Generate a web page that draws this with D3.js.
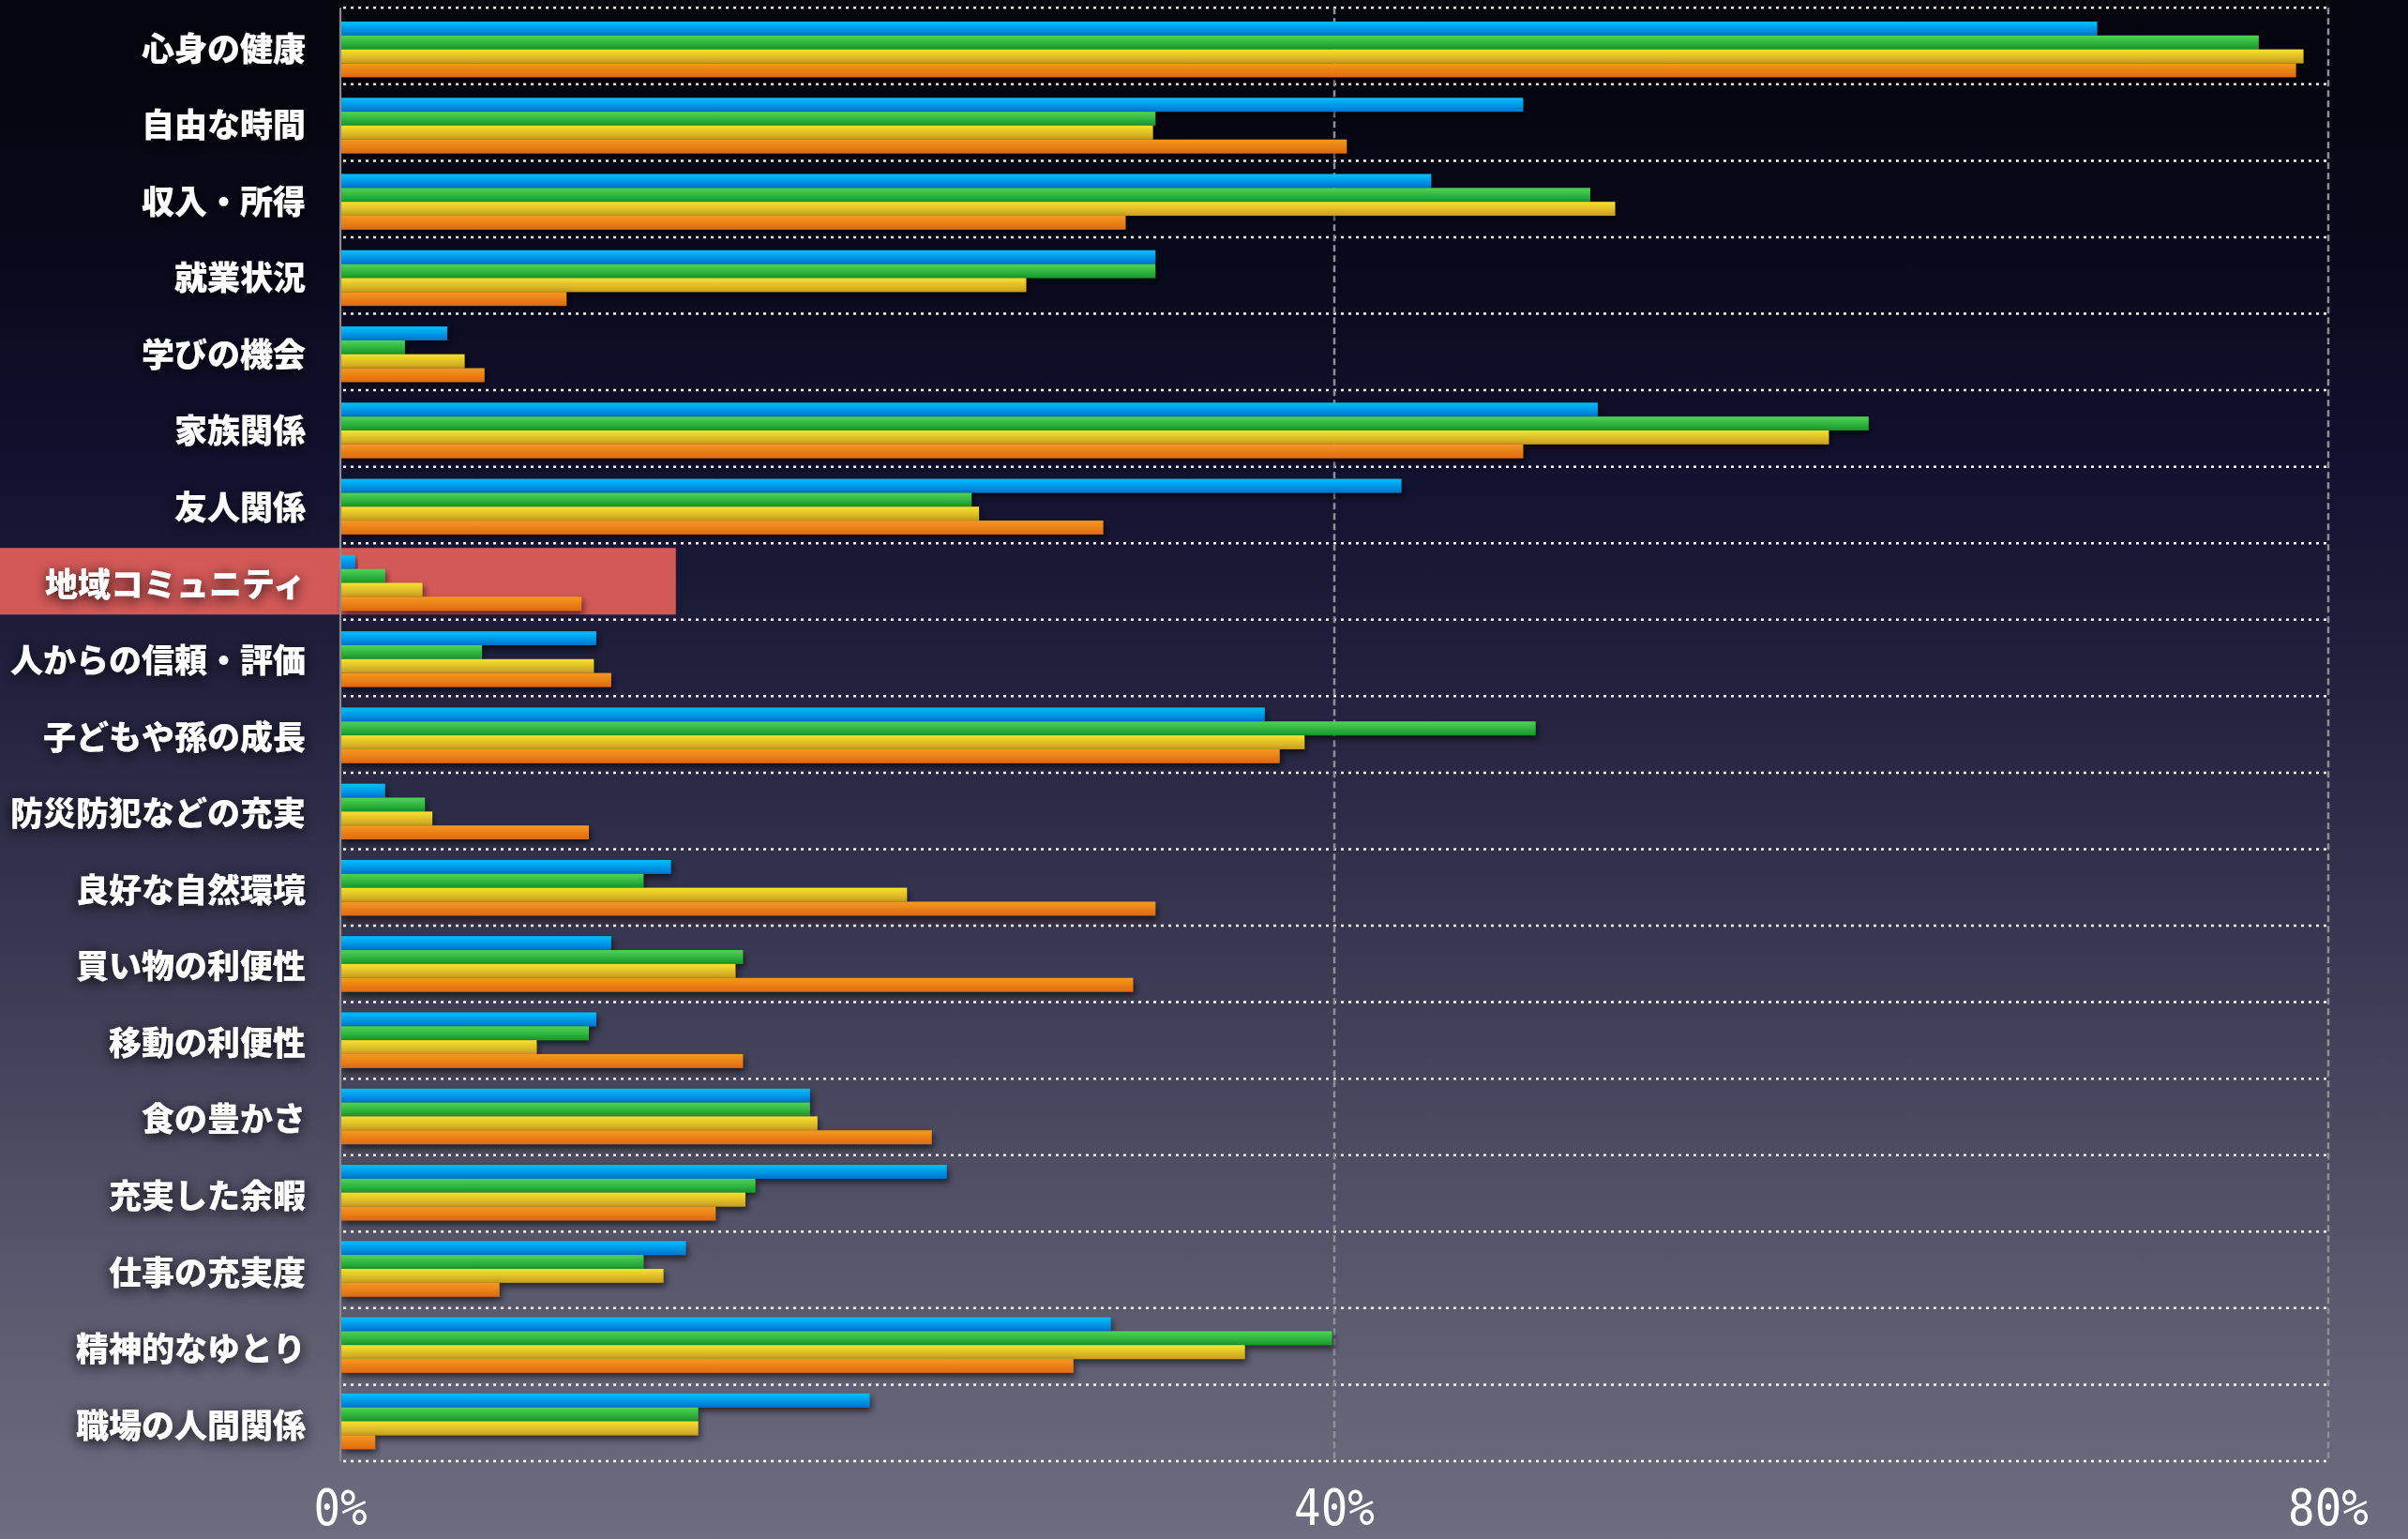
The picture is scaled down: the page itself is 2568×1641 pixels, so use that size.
<!DOCTYPE html>
<html>
<head>
<meta charset="utf-8">
<script src="https://cdn.jsdelivr.net/npm/d3@7/dist/d3.min.js"></script>
<style>
  html, body { margin: 0; padding: 0; background: #05050f; overflow: hidden; }
  svg { display: block; }
</style>
</head>
<body>
<svg id="chart" width="2568" height="1641"></svg>
<script>
// ---------- DATA ----------
const categories = [
  "心身の健康", "自由な時間", "収入・所得", "就業状況", "学びの機会",
  "家族関係", "友人関係", "地域コミュニティ", "人からの信頼・評価", "子どもや孫の成長",
  "防災防犯などの充実", "良好な自然環境", "買い物の利便性", "移動の利便性", "食の豊かさ",
  "充実した余暇", "仕事の充実度", "精神的なゆとり", "職場の人間関係"
];
const seriesNames = ["blue", "green", "yellow", "orange"];
const blueValues   = [70.7, 47.6, 43.9, 32.8, 4.3, 50.6, 42.7, 0.6, 10.3, 37.2, 1.8, 13.3, 10.9, 10.3, 18.9, 24.4, 13.9, 31.0, 21.3];
const greenValues  = [77.2, 32.8, 50.3, 32.8, 2.6, 61.5, 25.4, 1.8, 5.7, 48.1, 3.4, 12.2, 16.2, 10.0, 18.9, 16.7, 12.2, 39.9, 14.4];
const yellowValues = [79.0, 32.7, 51.3, 27.6, 5.0, 59.9, 25.7, 3.3, 10.2, 38.8, 3.7, 22.8, 15.9, 7.9, 19.2, 16.3, 13.0, 36.4, 14.4];
const orangeValues = [78.7, 40.5, 31.6, 9.1, 5.8, 47.6, 30.7, 9.7, 10.9, 37.8, 10.0, 32.8, 31.9, 16.2, 23.8, 15.1, 6.4, 29.5, 1.4];
const tickValues = [0, 40, 80];
const tickLabels = ["0%", "40%", "80%"];
const highlightCategory = "地域コミュニティ";
const highlightExtent = 13.5;

// ---------- SETUP ----------
const W = 2568, H = 1641;
const svg = d3.select("#chart");
const defs = svg.append("defs");

const bg = defs.append("linearGradient").attr("id", "bg").attr("x1", 0).attr("y1", 0).attr("x2", 0).attr("y2", 1);
[[0, "#04040c"], [0.15, "#080819"], [0.3, "#11112f"], [0.45, "#22223f"], [0.6, "#373650"],
 [0.75, "#4d4c63"], [0.9, "#626175"], [1, "#6e6d80"]].forEach(([o, c]) =>
  bg.append("stop").attr("offset", o).attr("stop-color", c));

const barColors = {
  blue:   ["#00c0ff", "#0074cf"],
  green:  ["#4fd457", "#17982a"],
  yellow: ["#f9e22f", "#c89e22"],
  orange: ["#f59a1e", "#df6914"]
};
seriesNames.forEach(s => {
  const g = defs.append("linearGradient").attr("id", "g-" + s).attr("x1", 0).attr("y1", 0).attr("x2", 0).attr("y2", 1);
  g.append("stop").attr("offset", 0).attr("stop-color", barColors[s][0]);
  g.append("stop").attr("offset", 1).attr("stop-color", barColors[s][1]);
});

const barShadow = defs.append("filter").attr("id", "barShadow")
  .attr("x", "-5%").attr("y", "-50%").attr("width", "120%").attr("height", "250%");
barShadow.append("feDropShadow").attr("dx", 2).attr("dy", 4).attr("stdDeviation", 3.5)
  .attr("flood-color", "#000").attr("flood-opacity", 0.6);

const textShadow = defs.append("filter").attr("id", "textShadow")
  .attr("x", "-20%").attr("y", "-60%").attr("width", "140%").attr("height", "220%");
textShadow.append("feDropShadow").attr("dx", 0).attr("dy", 3).attr("stdDeviation", 7)
  .attr("flood-color", "#000").attr("flood-opacity", 0.85);

svg.append("rect").attr("width", W).attr("height", H).attr("fill", "url(#bg)");

// ---------- SCALES ----------
const x = d3.scaleLinear().domain([0, 80]).range([363, 2483]);
const yGrid = d3.scaleBand().domain(categories).range([8.3, 1558]);
const barStep = 81.27;
const yBar = d3.scaleBand().domain(categories).range([23, 23 + barStep * categories.length]);
const yInner = d3.scaleBand().domain(seriesNames).range([0, 59.3]);

const valuesBySeries = { blue: blueValues, green: greenValues, yellow: yellowValues, orange: orangeValues };

// ---------- HIGHLIGHT ----------
svg.append("rect")
  .attr("x", 0)
  .attr("y", yGrid(highlightCategory) + 5)
  .attr("width", x(highlightExtent))
  .attr("height", yGrid.bandwidth() - 10.5)
  .attr("fill", "#d35958");

// ---------- GRIDLINES ----------
const gridYs = categories.map(c => yGrid(c)).concat([yGrid.range()[1]]);
svg.append("g").selectAll("line").data(gridYs).join("line")
  .attr("x1", x(0) + 3).attr("x2", x(80) + 1)
  .attr("y1", d => d).attr("y2", d => d)
  .attr("stroke", "#ffffff").attr("stroke-width", 2.5)
  .attr("stroke-dasharray", "3 5");

svg.append("g").selectAll("line").data(tickValues.filter(t => t > 0)).join("line")
  .attr("x1", d => x(d)).attr("x2", d => x(d))
  .attr("y1", yGrid.range()[0]).attr("y2", yGrid.range()[1])
  .attr("stroke", "#8e8e94").attr("stroke-width", 2.5)
  .attr("stroke-dasharray", "7 4");

// ---------- BARS ----------
const rows = categories.map((c, i) => ({ c, vals: seriesNames.map(s => ({ s, v: valuesBySeries[s][i] })) }));
const groups = svg.append("g").selectAll("g").data(rows).join("g")
  .attr("transform", d => `translate(0,${yBar(d.c)})`);
groups.selectAll("rect").data(d => d.vals).join("rect")
  .attr("x", x(0))
  .attr("y", d => yInner(d.s))
  .attr("width", d => x(d.v) - x(0))
  .attr("height", yInner.bandwidth())
  .attr("fill", d => `url(#g-${d.s})`)
  .attr("filter", "url(#barShadow)");

// ---------- AXIS LINE ----------
svg.append("line")
  .attr("x1", x(0)).attr("x2", x(0))
  .attr("y1", yGrid.range()[0]).attr("y2", yGrid.range()[1])
  .attr("stroke", "#8a8a8e").attr("stroke-width", 2.2);

// ---------- CATEGORY LABELS ----------
svg.append("g").selectAll("text").data(categories).join("text")
  .attr("x", 326)
  .attr("y", d => yGrid(d) + yGrid.bandwidth() / 2)
  .attr("text-anchor", "end")
  .attr("dominant-baseline", "central")
  .attr("font-family", "'Noto Sans CJK JP', 'Noto Sans CJK SC', sans-serif")
  .attr("font-weight", 900)
  .attr("font-size", 35)
  .attr("fill", "#ffffff")
  .attr("filter", "url(#textShadow)")
  .text(d => d);

// ---------- TICK LABELS ----------
svg.append("g").selectAll("text").data(tickValues).join("text")
  .attr("transform", d => `translate(${x(d)},1626) scale(0.95,1.08)`)
  .attr("text-anchor", "middle")
  .attr("font-family", "'DejaVu Sans Mono', monospace")
  .attr("font-size", 50)
  .attr("fill", "#ffffff")
  .text((d, i) => tickLabels[i]);
</script>
</body>
</html>
